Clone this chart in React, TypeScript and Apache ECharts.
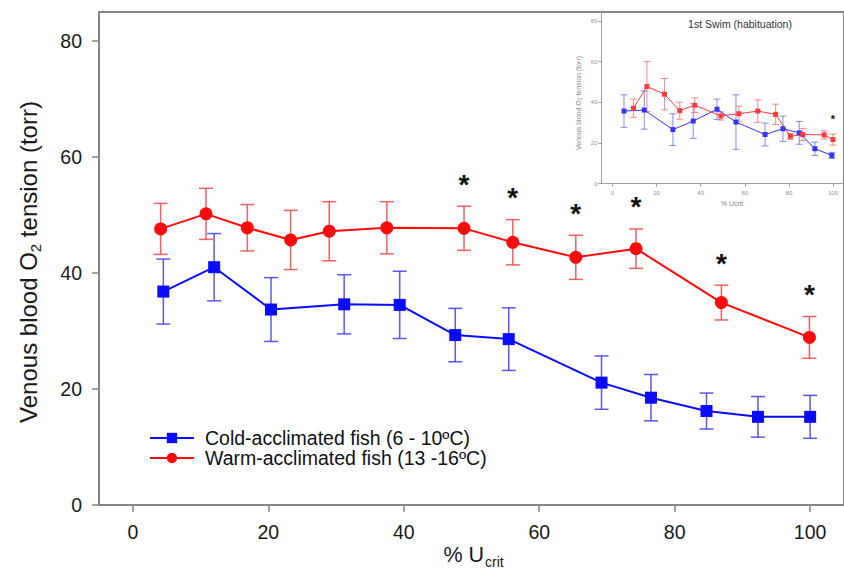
import React, { useEffect, useRef } from 'react';
import * as echarts from 'echarts';

// ---- Main chart data ----
const coldName = 'Cold-acclimated fish (6 - 10ºC)';
const warmName = 'Warm-acclimated fish (13 -16ºC)';

const coldX = [4.5, 12.0, 20.4, 31.2, 39.4, 47.6, 55.5, 69.2, 76.5, 84.7, 92.3, 100.0];
const coldY = [36.8, 41.0, 33.7, 34.6, 34.5, 29.3, 28.6, 21.1, 18.5, 16.2, 15.2, 15.2];
const coldErr = [5.6, 5.8, 5.5, 5.1, 5.8, 4.6, 5.4, 4.6, 4.0, 3.1, 3.5, 3.7];

const warmX = [4.1, 10.8, 16.9, 23.3, 29.0, 37.5, 48.9, 56.1, 65.4, 74.3, 86.9, 99.9];
const warmY = [47.6, 50.2, 47.8, 45.7, 47.2, 47.8, 47.7, 45.3, 42.7, 44.2, 34.9, 28.9];
const warmErr = [4.4, 4.4, 4.0, 5.1, 5.1, 4.5, 3.8, 3.9, 3.8, 3.4, 3.0, 3.6];
const warmSig = [0, 0, 0, 0, 0, 0, 1, 1, 1, 1, 1, 1];

// ---- Inset (1st swim) data ----
const insetColdX = [5.2, 14.4, 27.4, 36.6, 47.4, 56.0, 69.2, 77.3, 84.7, 91.8, 99.5];
const insetColdY = [35.7, 36.2, 26.6, 30.8, 36.6, 30.3, 24.2, 27.0, 25.0, 17.2, 13.9];
const insetColdErr = [8.0, 9.4, 7.8, 8.5, 5.0, 13.4, 5.6, 6.2, 5.6, 3.3, 1.5];

const insetWarmX = [9.5, 15.6, 23.6, 30.5, 37.3, 49.2, 57.3, 65.9, 74.0, 80.7, 86.3, 96.0, 100.0];
const insetWarmY = [37.1, 47.8, 44.0, 35.9, 38.6, 33.3, 34.4, 35.7, 34.1, 23.3, 24.2, 24.0, 21.7];
const insetWarmErr = [4.5, 12.3, 7.7, 4.2, 3.6, 2.0, 3.7, 5.5, 5.0, 1.5, 3.0, 2.0, 2.7];
const insetWarmSig = [0, 0, 0, 0, 0, 0, 0, 0, 0, 0, 0, 0, 1];

const xTicks = [0, 20, 40, 60, 80, 100];
const yTicks = [0, 20, 40, 60, 80];

const FONT = 'Liberation Sans, Arial, Helvetica, sans-serif';

function errSeries(
  name: string, xs: number[], ys: number[], es: number[], sig: number[] | null,
  color: string, lw: number, cap: number, idx: number,
  starSize: number, starOff: number
) {
  return {
    type: 'custom',
    name,
    xAxisIndex: idx,
    yAxisIndex: idx,
    silent: true,
    z: 2,
    encode: { x: 0, y: 1 },
    data: xs.map((x, i) => [x, ys[i], es[i], sig ? sig[i] : 0]),
    renderItem: (params: any, api: any) => {
      const x = api.value(0);
      const y = api.value(1);
      const e = api.value(2);
      const s = api.value(3);
      const t = api.coord([x, y + e]);
      const b = api.coord([x, y - e]);
      const style = { stroke: color, lineWidth: lw, fill: null };
      const children: any[] = [
        { type: 'line', shape: { x1: t[0], y1: t[1], x2: b[0], y2: b[1] }, style },
        { type: 'line', shape: { x1: t[0] - cap, y1: t[1], x2: t[0] + cap, y2: t[1] }, style },
        { type: 'line', shape: { x1: b[0] - cap, y1: b[1], x2: b[0] + cap, y2: b[1] }, style },
      ];
      if (s) {
        children.push({
          type: 'text',
          x: t[0],
          y: t[1] - starOff,
          style: {
            text: '*', fontSize: starSize, fontWeight: 'bold', fill: '#111',
            align: 'center', verticalAlign: 'middle', fontFamily: FONT,
          },
        });
      }
      return { type: 'group', children };
    },
  };
}

function lineSeries(name: string, xs: number[], ys: number[], color: string, symbol: string,
  size: number, lw: number, idx: number) {
  return {
    type: 'line',
    name,
    xAxisIndex: idx,
    yAxisIndex: idx,
    z: 3,
    symbol,
    symbolSize: size,
    showAllSymbol: true,
    lineStyle: { color, width: lw },
    itemStyle: { color },
    data: xs.map((x, i) => [x, ys[i]]),
  };
}

export default function App() {
  const ref = useRef<HTMLDivElement>(null);
  useEffect(() => {
    const chart = echarts.init(ref.current!, null, { renderer: 'svg' });
    const mainAxisLine = { show: true, onZero: false, lineStyle: { color: '#858585', width: 2 } };
    const insetAxisLine = { show: true, onZero: false, lineStyle: { color: '#a0a0a0', width: 1 } };
    const option: any = {
      animation: false,
      backgroundColor: '#ffffff',
      grid: [
        { left: 99, top: 12, width: 750, height: 493, show: true, borderColor: '#858585', borderWidth: 2, backgroundColor: 'transparent' },
        { left: 601.5, top: 10.8, width: 247, height: 172.9, show: false },
      ],
      xAxis: [
        {
          type: 'value', gridIndex: 0, min: -5, max: 105,
          axisLine: mainAxisLine,
          axisTick: { show: true, customValues: xTicks, length: 7, lineStyle: { color: '#858585', width: 1.5 } },
          axisLabel: { customValues: xTicks, fontSize: 19.5, color: '#1a1a1a', fontFamily: FONT, margin: 17 },
          splitLine: { show: false },
        },
        {
          type: 'value', gridIndex: 1, min: -5, max: 105,
          axisLine: insetAxisLine,
          axisTick: { show: true, customValues: xTicks, length: 3, lineStyle: { color: '#a0a0a0', width: 1 } },
          axisLabel: { customValues: xTicks, fontSize: 6, color: '#909090', fontFamily: FONT, margin: 6 },
          splitLine: { show: false },
        },
      ],
      yAxis: [
        {
          type: 'value', gridIndex: 0, min: 0, max: 85,
          axisLine: mainAxisLine,
          axisTick: { show: true, customValues: yTicks, length: 7, lineStyle: { color: '#858585', width: 1.5 } },
          axisLabel: { customValues: yTicks, fontSize: 19.5, color: '#1a1a1a', fontFamily: FONT, margin: 17 },
          splitLine: { show: false },
        },
        {
          type: 'value', gridIndex: 1, min: 0, max: 85,
          axisLine: insetAxisLine,
          axisTick: { show: true, customValues: yTicks, length: 3, lineStyle: { color: '#a0a0a0', width: 1 } },
          axisLabel: { customValues: yTicks, fontSize: 6, color: '#909090', fontFamily: FONT, margin: 4 },
          splitLine: { show: false },
        },
      ],
      legend: {
        data: [coldName, warmName],
        orient: 'vertical',
        left: 144,
        top: 423,
        itemWidth: 44,
        itemHeight: 13,
        itemGap: 0,
        textStyle: { fontSize: 19.5, lineHeight: 20, color: '#111', fontFamily: FONT, padding: [0, 0, 0, 6] },
      },
      series: [
        errSeries('cold-err', coldX, coldY, coldErr, null, 'rgba(60,60,235,0.85)', 1.5, 7, 0, 0, 0),
        errSeries('warm-err', warmX, warmY, warmErr, warmSig, 'rgba(235,70,70,0.85)', 1.5, 7, 0, 28, 22),
        lineSeries(coldName, coldX, coldY, '#0a0aff', 'rect', 12, 2, 0),
        lineSeries(warmName, warmX, warmY, '#ff0a0a', 'circle', 13, 2, 0),
        errSeries('i-cold-err', insetColdX, insetColdY, insetColdErr, null, 'rgba(90,90,240,0.7)', 1, 3.5, 1, 0, 0),
        errSeries('i-warm-err', insetWarmX, insetWarmY, insetWarmErr, insetWarmSig, 'rgba(240,90,90,0.7)', 1, 3.5, 1, 11, 15),
        lineSeries('Inset cold', insetColdX, insetColdY, '#3535ff', 'rect', 5, 1, 1),
        lineSeries('Inset warm', insetWarmX, insetWarmY, '#ff3a3a', 'rect', 5, 1, 1),
      ],
      graphic: [
        {
          type: 'text', x: 35.5, y: 262, rotation: Math.PI / 2, z: 10,
          style: {
            text: '{a|Venous blood O}{s|2}{a| tension (torr)}',
            align: 'center', verticalAlign: 'middle', fill: '#1a1a1a',
            rich: {
              a: { fontSize: 24, fontFamily: FONT, lineHeight: 24, verticalAlign: 'top', fill: '#1a1a1a' },
              s: { fontSize: 15, fontFamily: FONT, lineHeight: 38, fill: '#1a1a1a' },
            },
          },
        },
        {
          type: 'text', x: 484, y: 555, z: 10,
          style: { text: '% U', fontSize: 21.5, fontFamily: FONT, fill: '#1a1a1a', align: 'right', verticalAlign: 'middle' },
        },
        {
          type: 'text', x: 485, y: 561.5, z: 10,
          style: { text: 'crit', fontSize: 14, fontFamily: FONT, fill: '#1a1a1a', align: 'left', verticalAlign: 'middle' },
        },
        {
          type: 'text', x: 740, y: 24, z: 10,
          style: { text: '1st Swim (habituation)', fontSize: 10.5, fontFamily: FONT, fill: '#333', align: 'center', verticalAlign: 'middle' },
        },
        {
          type: 'text', x: 580, y: 103, rotation: Math.PI / 2, z: 10,
          style: {
            text: '{a|Venous blood O}{s|2}{a| tension (torr)}',
            align: 'center', verticalAlign: 'middle', fill: '#888',
            rich: {
              a: { fontSize: 7, fontFamily: FONT, lineHeight: 8, verticalAlign: 'top', fill: '#888' },
              s: { fontSize: 5, fontFamily: FONT, lineHeight: 11, fill: '#888' },
            },
          },
        },
        {
          type: 'text', x: 732, y: 203, z: 10,
          style: { text: '% Ucrit', fontSize: 7, fontFamily: FONT, fill: '#888', align: 'center', verticalAlign: 'middle' },
        },
      ],
    };
    chart.setOption(option);
    return () => chart.dispose();
  }, []);
  return (
    <div
      ref={ref}
      style={{ position: 'fixed', left: 0, top: 0, width: 844, height: 569, background: '#fff' }}
    />
  );
}
